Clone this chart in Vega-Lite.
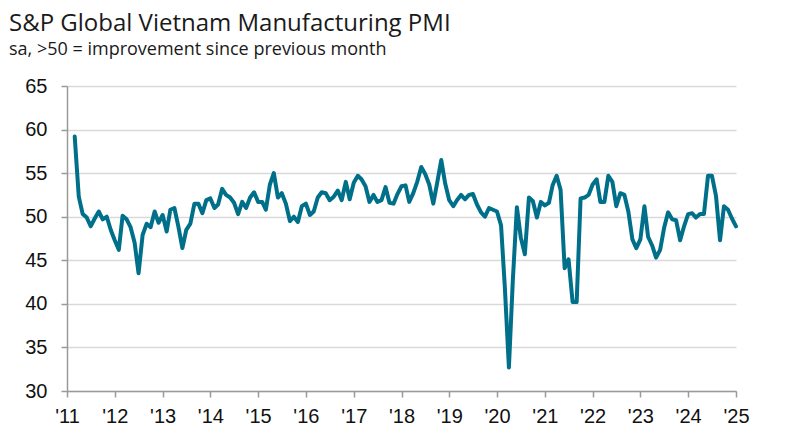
{
  "$schema": "https://vega.github.io/schema/vega-lite/v6.json",
  "width": 669,
  "height": 305,
  "autosize": {"type": "none"},
  "padding": {"left": 67, "top": 86, "right": 72, "bottom": 41},
  "background": "white",
  "title": {
    "text": "S&P Global Vietnam Manufacturing PMI",
    "subtitle": "sa, >50 = improvement since previous month",
    "anchor": "start",
    "frame": "group",
    "dx": -58,
    "offset": 17,
    "font": "Open Sans",
    "fontSize": 24,
    "fontWeight": "normal",
    "color": "#1a1a1a",
    "subtitleFont": "Open Sans",
    "subtitleFontSize": 18,
    "subtitleColor": "#1a1a1a",
    "subtitlePadding": 5
  },
  "config": {
    "view": {"stroke": null},
    "axis": {"labelFont": "Liberation Sans", "labelColor": "#111111", "labelFontSize": 20}
  },
  "data": {"values": [
    {"d":"2011-03-01","v":59.2},{"d":"2011-04-01","v":52.3},{"d":"2011-05-01","v":50.3},{"d":"2011-06-01","v":49.9},{"d":"2011-07-01","v":48.9},{"d":"2011-08-01","v":49.8},{"d":"2011-09-01","v":50.6},{"d":"2011-10-01","v":49.7},{"d":"2011-11-01","v":50.0},{"d":"2011-12-01","v":48.5},
    {"d":"2012-01-01","v":47.3},{"d":"2012-02-01","v":46.2},{"d":"2012-03-01","v":50.1},{"d":"2012-04-01","v":49.7},{"d":"2012-05-01","v":48.8},{"d":"2012-06-01","v":47.0},{"d":"2012-07-01","v":43.5},{"d":"2012-08-01","v":47.9},{"d":"2012-09-01","v":49.2},{"d":"2012-10-01","v":48.8},{"d":"2012-11-01","v":50.6},{"d":"2012-12-01","v":49.3},
    {"d":"2013-01-01","v":50.2},{"d":"2013-02-01","v":48.3},{"d":"2013-03-01","v":50.8},{"d":"2013-04-01","v":51.0},{"d":"2013-05-01","v":48.9},{"d":"2013-06-01","v":46.4},{"d":"2013-07-01","v":48.5},{"d":"2013-08-01","v":49.2},{"d":"2013-09-01","v":51.5},{"d":"2013-10-01","v":51.5},{"d":"2013-11-01","v":50.4},{"d":"2013-12-01","v":51.9},
    {"d":"2014-01-01","v":52.1},{"d":"2014-02-01","v":51.0},{"d":"2014-03-01","v":51.4},{"d":"2014-04-01","v":53.2},{"d":"2014-05-01","v":52.5},{"d":"2014-06-01","v":52.2},{"d":"2014-07-01","v":51.6},{"d":"2014-08-01","v":50.3},{"d":"2014-09-01","v":51.7},{"d":"2014-10-01","v":51.0},{"d":"2014-11-01","v":52.2},{"d":"2014-12-01","v":52.8},
    {"d":"2015-01-01","v":51.7},{"d":"2015-02-01","v":51.7},{"d":"2015-03-01","v":50.8},{"d":"2015-04-01","v":53.7},{"d":"2015-05-01","v":55.0},{"d":"2015-06-01","v":52.2},{"d":"2015-07-01","v":52.7},{"d":"2015-08-01","v":51.5},{"d":"2015-09-01","v":49.5},{"d":"2015-10-01","v":50.0},{"d":"2015-11-01","v":49.4},{"d":"2015-12-01","v":51.2},
    {"d":"2016-01-01","v":51.5},{"d":"2016-02-01","v":50.2},{"d":"2016-03-01","v":50.6},{"d":"2016-04-01","v":52.2},{"d":"2016-05-01","v":52.8},{"d":"2016-06-01","v":52.7},{"d":"2016-07-01","v":51.9},{"d":"2016-08-01","v":52.3},{"d":"2016-09-01","v":53.0},{"d":"2016-10-01","v":51.9},{"d":"2016-11-01","v":54.0},{"d":"2016-12-01","v":52.0},
    {"d":"2017-01-01","v":53.9},{"d":"2017-02-01","v":54.7},{"d":"2017-03-01","v":54.3},{"d":"2017-04-01","v":53.5},{"d":"2017-05-01","v":51.7},{"d":"2017-06-01","v":52.5},{"d":"2017-07-01","v":51.7},{"d":"2017-08-01","v":51.9},{"d":"2017-09-01","v":53.4},{"d":"2017-10-01","v":51.6},{"d":"2017-11-01","v":51.5},{"d":"2017-12-01","v":52.6},
    {"d":"2018-01-01","v":53.5},{"d":"2018-02-01","v":53.6},{"d":"2018-03-01","v":51.7},{"d":"2018-04-01","v":52.7},{"d":"2018-05-01","v":54.0},{"d":"2018-06-01","v":55.7},{"d":"2018-07-01","v":54.9},{"d":"2018-08-01","v":53.7},{"d":"2018-09-01","v":51.5},{"d":"2018-10-01","v":53.9},{"d":"2018-11-01","v":56.5},{"d":"2018-12-01","v":53.8},
    {"d":"2019-01-01","v":51.9},{"d":"2019-02-01","v":51.2},{"d":"2019-03-01","v":51.9},{"d":"2019-04-01","v":52.5},{"d":"2019-05-01","v":52.0},{"d":"2019-06-01","v":52.5},{"d":"2019-07-01","v":52.6},{"d":"2019-08-01","v":51.4},{"d":"2019-09-01","v":50.5},{"d":"2019-10-01","v":50.0},{"d":"2019-11-01","v":51.0},{"d":"2019-12-01","v":50.8},
    {"d":"2020-01-01","v":50.6},{"d":"2020-02-01","v":49.0},{"d":"2020-03-01","v":41.9},{"d":"2020-04-01","v":32.7},{"d":"2020-05-01","v":42.7},{"d":"2020-06-01","v":51.1},{"d":"2020-07-01","v":47.6},{"d":"2020-08-01","v":45.7},{"d":"2020-09-01","v":52.2},{"d":"2020-10-01","v":51.8},{"d":"2020-11-01","v":49.9},{"d":"2020-12-01","v":51.7},
    {"d":"2021-01-01","v":51.3},{"d":"2021-02-01","v":51.6},{"d":"2021-03-01","v":53.6},{"d":"2021-04-01","v":54.7},{"d":"2021-05-01","v":53.1},{"d":"2021-06-01","v":44.1},{"d":"2021-07-01","v":45.1},{"d":"2021-08-01","v":40.2},{"d":"2021-09-01","v":40.2},{"d":"2021-10-01","v":52.1},{"d":"2021-11-01","v":52.2},{"d":"2021-12-01","v":52.5},
    {"d":"2022-01-01","v":53.7},{"d":"2022-02-01","v":54.3},{"d":"2022-03-01","v":51.7},{"d":"2022-04-01","v":51.7},{"d":"2022-05-01","v":54.7},{"d":"2022-06-01","v":54.0},{"d":"2022-07-01","v":51.2},{"d":"2022-08-01","v":52.7},{"d":"2022-09-01","v":52.5},{"d":"2022-10-01","v":50.6},{"d":"2022-11-01","v":47.4},{"d":"2022-12-01","v":46.4},
    {"d":"2023-01-01","v":47.4},{"d":"2023-02-01","v":51.2},{"d":"2023-03-01","v":47.7},{"d":"2023-04-01","v":46.7},{"d":"2023-05-01","v":45.3},{"d":"2023-06-01","v":46.2},{"d":"2023-07-01","v":48.7},{"d":"2023-08-01","v":50.5},{"d":"2023-09-01","v":49.7},{"d":"2023-10-01","v":49.6},{"d":"2023-11-01","v":47.3},{"d":"2023-12-01","v":48.9},
    {"d":"2024-01-01","v":50.3},{"d":"2024-02-01","v":50.4},{"d":"2024-03-01","v":49.9},{"d":"2024-04-01","v":50.3},{"d":"2024-05-01","v":50.3},{"d":"2024-06-01","v":54.7},{"d":"2024-07-01","v":54.7},{"d":"2024-08-01","v":52.4},{"d":"2024-09-01","v":47.3},{"d":"2024-10-01","v":51.2},{"d":"2024-11-01","v":50.8},{"d":"2024-12-01","v":49.8},
    {"d":"2025-01-01","v":48.9}
  ]},
  "mark": {"type": "line", "color": "#006f8a", "strokeWidth": 4, "strokeJoin": "round", "strokeCap": "round"},
  "encoding": {
    "x": {
      "field": "d", "type": "temporal",
      "scale": {"type": "utc", "domain": [{"year": 2011, "month": 1, "date": 1, "utc": true}, {"year": 2025, "month": 1, "date": 1, "utc": true}]},
      "axis": {
        "title": null,
        "tickCount": {"interval": "year", "step": 1},
        "labelExpr": "\"'\" + utcFormat(datum.value, '%y')",
        "grid": false,
        "domainColor": "#9a9a9a",
        "domainWidth": 1.5,
        "tickColor": "#9a9a9a",
        "tickWidth": 1.5,
        "tickSize": 6,
        "labelPadding": 9,
        "labelFlush": false,
        "labelOverlap": false
      }
    },
    "y": {
      "field": "v", "type": "quantitative",
      "scale": {"domain": [30, 65], "nice": false, "zero": false},
      "axis": {
        "title": null,
        "values": [30, 35, 40, 45, 50, 55, 60, 65],
        "grid": true,
        "gridColor": "#d9d9d9",
        "gridWidth": 1.5,
        "domainColor": "#9a9a9a",
        "domainWidth": 1.5,
        "tickColor": "#9a9a9a",
        "tickWidth": 1.5,
        "tickSize": 6,
        "labelPadding": 14
      }
    }
  }
}
